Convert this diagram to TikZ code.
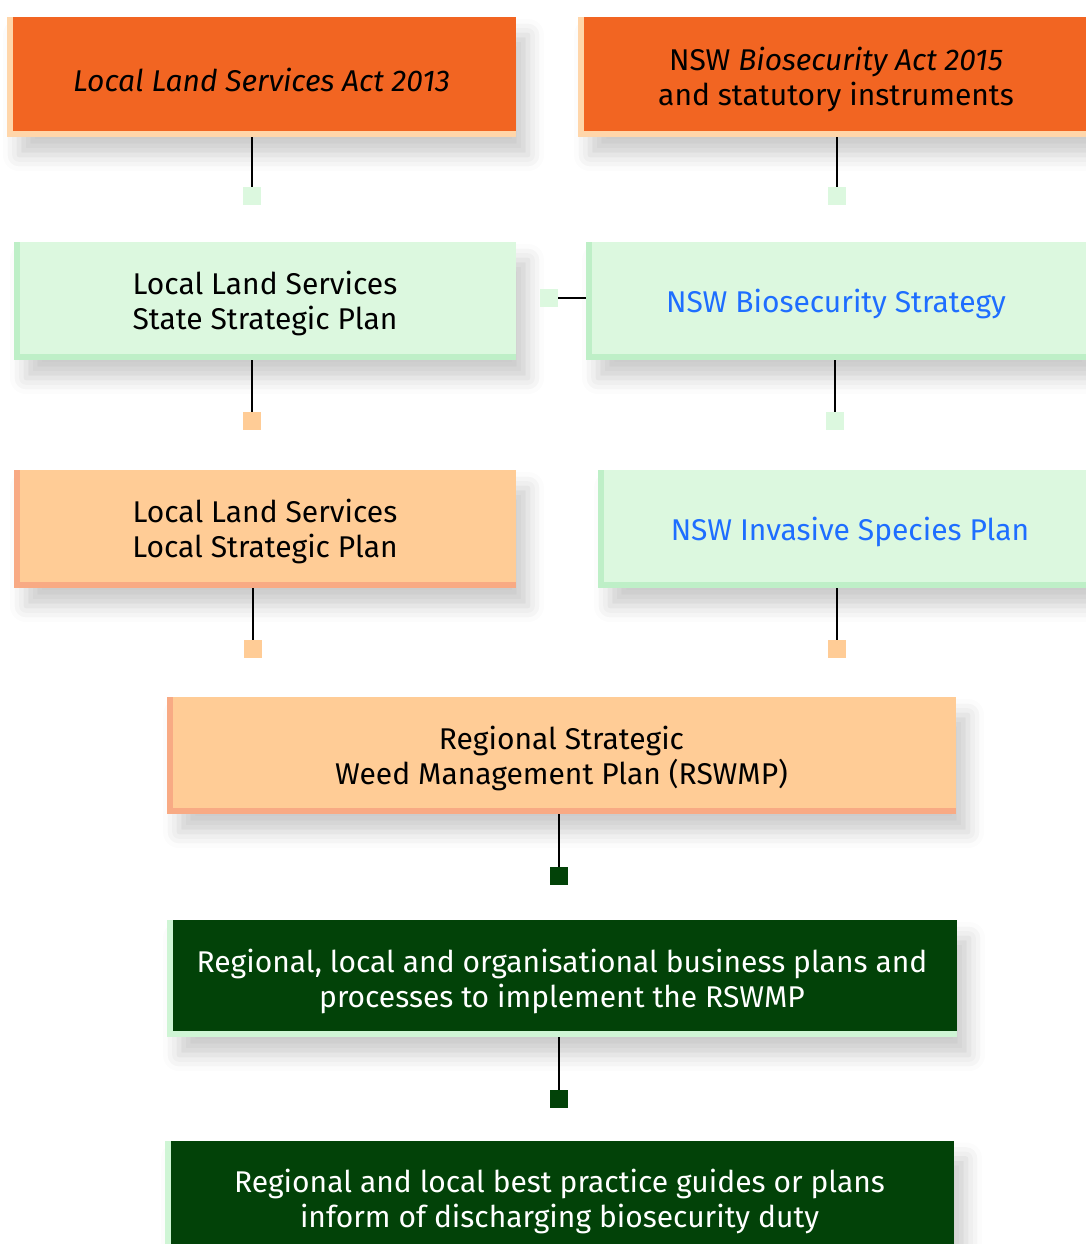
\documentclass[tikz,border=0pt]{standalone}
\usepackage{fontspec}
\setmainfont{Fira Sans}
\usetikzlibrary{shadows.blur}

\definecolor{actorange}{HTML}{F26522}
\definecolor{actrim}{HTML}{FFD6AA}
\definecolor{mint}{HTML}{DCF8DF}
\definecolor{mintrim}{HTML}{BEEFC7}
\definecolor{peach}{HTML}{FFCC96}
\definecolor{peachrim}{HTML}{F8AA84}
\definecolor{forest}{HTML}{024208}
\definecolor{foresttrim}{HTML}{CFF5D5}
\definecolor{linkblue}{HTML}{1E6EFF}

% left and bottom rim of a box
\tikzset{rim/.style={path picture={
    \fill[#1] (path picture bounding box.south west) rectangle ([xshift=3pt]path picture bounding box.north west);
    \fill[#1] (path picture bounding box.south west) rectangle ([yshift=3.25pt]path picture bounding box.south east);}}}
% pushes the first line a little down
\newcommand{\boxstrut}{\rule{0pt}{14.5pt}}

\begin{document}
\begin{tikzpicture}[x=0.5pt,y=-0.5pt]
        \tikzstyle{every node}=[inner sep=0pt, align=center, font=\fontsize{15}{17.5}\selectfont]
        \tikzstyle{box}=[minimum height=59pt, blur shadow={shadow xshift=6pt, shadow yshift=-9pt, shadow blur radius=8pt, shadow opacity=20}]
        \tikzstyle{act}=[box, fill=actorange, rim=actrim]
        \tikzstyle{state}=[box, fill=mint, rim=mintrim]
        \tikzstyle{local}=[box, fill=peach, rim=peachrim]
        \tikzstyle{duty}=[box, fill=forest, rim=foresttrim, text=white]
        \tikzstyle{sqr}=[minimum size=9pt]
        \tikzstyle{conn}=[line width=0.75pt]
        \useasboundingbox (0,0) rectangle (1086,1244);
        \clip (0,0) rectangle (1086,1244);
        % boxes
        \node[act, minimum width=254.5pt, minimum height=60pt] (lsact) at (261.5,77) {\boxstrut\itshape Local Land Services Act 2013};
        \node[act, minimum width=258pt, minimum height=60pt] (bioact) at (836,77) {\boxstrut NSW \textit{Biosecurity Act 2015}\\and statutory instruments};
        \node[state, minimum width=251pt] (stateplan) at (265,301) {\boxstrut Local Land Services\\State Strategic Plan};
        \node[state, minimum width=250pt, text=linkblue] (biostrat) at (836,301) {\boxstrut NSW Biosecurity Strategy};
        \node[local, minimum width=251pt] (localplan) at (265,529) {\boxstrut Local Land Services\\Local Strategic Plan};
        \node[state, minimum width=252pt, text=linkblue] (invplan) at (850,529) {\boxstrut NSW Invasive Species Plan};
        \node[local, minimum width=394.5pt, minimum height=58.5pt] (rswmp) at (561.5,755.5) {\boxstrut Regional Strategic\\Weed Management Plan (RSWMP)};
        \node[duty, minimum width=395pt, minimum height=58.5pt] (business) at (562,978.5) {\boxstrut Regional, local and organisational business plans and\\processes to implement the RSWMP};
        \node[duty, minimum width=394.5pt, minimum height=58.5pt] (guides) at (559.5,1199) {\boxstrut Regional and local best practice guides or plans\\inform of discharging biosecurity duty};
        % end squares
        \node[sqr, fill=mint] (lsactsq) at (252,196) {};
        \node[sqr, fill=mint] (bioactsq) at (837,196) {};
        \node[sqr, fill=mint] (biostratsq) at (548.5,298) {};
        \node[sqr, fill=peach] (stateplansq) at (252,421) {};
        \node[sqr, fill=mint] (biostratdn) at (835,421) {};
        \node[sqr, fill=peach] (localplansq) at (253,649) {};
        \node[sqr, fill=peach] (invplansq) at (837,649) {};
        \node[sqr, fill=forest] (rswmpsq) at (559,876) {};
        \node[sqr, fill=forest] (businesssq) at (559,1099) {};
        % connectors
        \draw[conn] (lsactsq |- lsact.south) -- (lsactsq.north);
        \draw[conn] (bioactsq |- bioact.south) -- (bioactsq.north);
        \draw[conn] (biostratsq -| biostrat.west) -- (biostratsq.east);
        \draw[conn] (stateplansq |- stateplan.south) -- (stateplansq.north);
        \draw[conn] (biostratdn |- biostrat.south) -- (biostratdn.north);
        \draw[conn] (localplansq |- localplan.south) -- (localplansq.north);
        \draw[conn] (invplansq |- invplan.south) -- (invplansq.north);
        \draw[conn] (rswmpsq |- rswmp.south) -- (rswmpsq.north);
        \draw[conn] (businesssq |- business.south) -- (businesssq.north);
\end{tikzpicture}
\end{document}
